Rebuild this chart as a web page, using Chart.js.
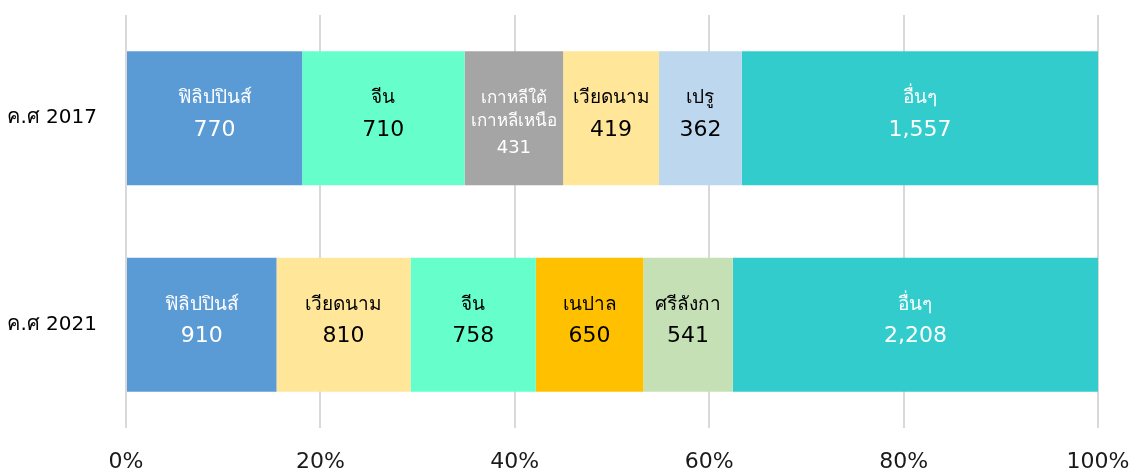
<!DOCTYPE html>
<html>
<head>
<meta charset="utf-8">
<script src="https://cdn.jsdelivr.net/npm/chart.js@4"></script>
<style>
  html, body { margin: 0; padding: 0; background: #fff; }
  #wrap { width: 1137px; height: 473px; }
</style>
</head>
<body>
<div id="wrap"><canvas id="chart"></canvas></div>
<script>
const years = ['ค.ศ 2017', 'ค.ศ 2021'];
const names2017 = ['ฟิลิปปินส์', 'จีน', 'เกาหลีใต้\nเกาหลีเหนือ', 'เวียดนาม', 'เปรู', 'อื่นๆ'];
const values2017 = [770, 710, 431, 419, 362, 1557];
const names2021 = ['ฟิลิปปินส์', 'เวียดนาม', 'จีน', 'เนปาล', 'ศรีลังกา', 'อื่นๆ'];
const values2021 = [910, 810, 758, 650, 541, 2208];
const xTicks = [0, 20, 40, 60, 80, 100];

const FONT = "Tahoma, Verdana, 'DejaVu Sans', 'Noto Sans', sans-serif";

// colour and text colour for each country
const colors = {
  'ฟิลิปปินส์': ['#5B9BD5', '#ffffff'],
  'จีน': ['#66FFCC', '#000000'],
  'เกาหลีใต้\nเกาหลีเหนือ': ['#A5A5A5', '#ffffff'],
  'เวียดนาม': ['#FFE699', '#000000'],
  'เปรู': ['#BDD7EE', '#000000'],
  'อื่นๆ': ['#33CCCC', '#ffffff'],
  'เนปาล': ['#FFC000', '#000000'],
  'ศรีลังกา': ['#C5E0B4', '#000000']
};

const names = [names2017, names2021];
const values = [values2017, values2021];
const totals = values.map(v => v.reduce((a, b) => a + b, 0));

var datasets = [];
for (var i = 0; i < names2017.length; i++) {
  datasets.push({
    label: 'slot' + i,
    data: [values2017[i] / totals[0] * 100, values2021[i] / totals[1] * 100],
    backgroundColor: [colors[names2017[i]][0], colors[names2021[i]][0]],
    borderWidth: 0,
    barPercentage: 0.65,
    categoryPercentage: 1
  });
}

const cellLabels = {
  id: 'cellLabels',
  afterDatasetsDraw(chart) {
    const ctx = chart.ctx;
    ctx.save();
    ctx.textAlign = 'center';
    ctx.textBaseline = 'middle';
    chart.data.datasets.forEach((ds, di) => {
      chart.getDatasetMeta(di).data.forEach((el, row) => {
        const name = names[row][di];
        const value = values[row][di];
        const cx = (el.x + el.base) / 2;
        const cy = el.y;
        ctx.fillStyle = colors[name][1];
        const lines = name.split('\n');
        if (lines.length > 1) {
          ctx.font = '17px ' + FONT;
          ctx.fillText(lines[0], cx, cy - 20);
          ctx.fillText(lines[1], cx, cy + 3);
          ctx.font = '18px ' + FONT;
          ctx.fillText(value.toLocaleString('en-US'), cx, cy + 30);
        } else {
          ctx.font = '19px ' + FONT;
          ctx.fillText(name, cx, cy - 20);
          ctx.font = '22px ' + FONT;
          ctx.fillText(value.toLocaleString('en-US'), cx, cy + 12);
        }
      });
    });
    ctx.restore();
  }
};

new Chart(document.getElementById('chart'), {
  type: 'bar',
  data: { labels: years, datasets: datasets },
  plugins: [cellLabels],
  options: {
    indexAxis: 'y',
    responsive: true,
    maintainAspectRatio: false,
    animation: false,
    layout: { padding: { top: 15, right: 39, left: 0, bottom: 0 } },
    plugins: { legend: { display: false }, tooltip: { enabled: false } },
    scales: {
      x: {
        stacked: true,
        min: 0,
        max: 100,
        afterBuildTicks: function (scale) {
          scale.ticks = xTicks.map(v => ({ value: v }));
        },
        afterFit: function (scale) {
          scale.height = 45;
          scale.paddingLeft = 0;
          scale.paddingRight = 0;
        },
        grid: { color: '#D9D9D9', lineWidth: 2, drawTicks: false },
        border: { display: false },
        ticks: {
          padding: 21,
          color: '#1a1a1a',
          font: { family: FONT, size: 22 },
          callback: v => v + '%'
        }
      },
      y: {
        stacked: true,
        afterFit: function (scale) {
          scale.width = 126;
          scale.paddingTop = 0;
          scale.paddingBottom = 0;
        },
        grid: { display: false, drawTicks: false },
        border: { display: false },
        ticks: {
          padding: 29,
          color: '#000',
          font: { family: FONT, size: 20 }
        }
      }
    }
  }
});
</script>
</body>
</html>
